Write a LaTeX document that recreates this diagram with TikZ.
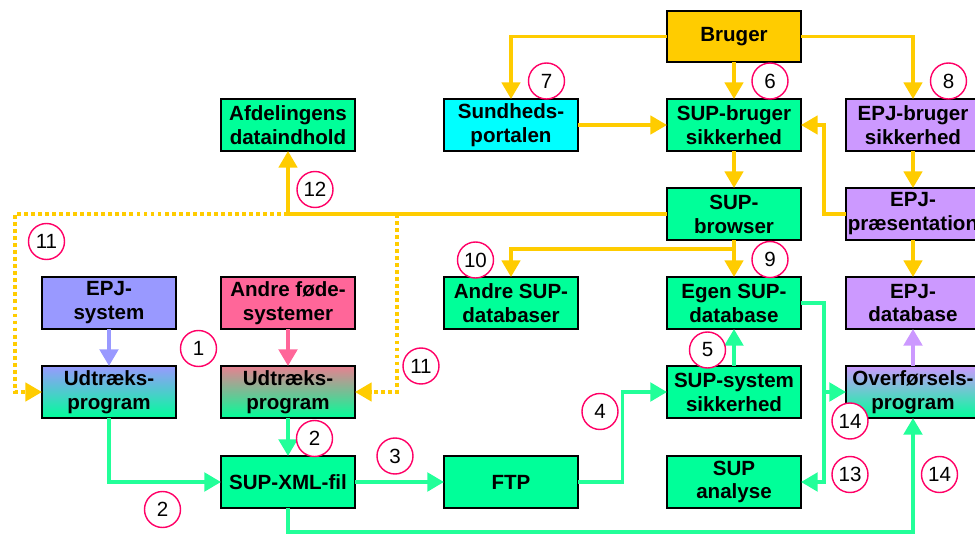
\documentclass[tikz,border=0pt]{standalone}
\usepackage{fontspec}
\setmainfont{Liberation Sans}
\usetikzlibrary{arrows.meta, positioning, calc}

\definecolor{guld}{HTML}{FFCC00}
\definecolor{supgroen}{HTML}{00FF99}
\definecolor{linjegroen}{HTML}{22FF99}
\definecolor{portalcyan}{HTML}{00FFFF}
\definecolor{epjlilla}{HTML}{CC99FF}
\definecolor{epjblaa}{HTML}{9999FF}
\definecolor{andrerosa}{HTML}{FF6699}
\definecolor{udtrrosa}{HTML}{E88090}
\definecolor{nummerrod}{HTML}{FF0066}

\begin{document}
\begin{tikzpicture}[
    node distance=0.74cm and 1.78cm,
    kasse/.style={rectangle, minimum width=2.68cm, minimum height=1.04cm, inner sep=0pt, outer sep=0pt, text centered, align=center, draw=black, line width=0.9pt, font=\bfseries\fontsize{11.7}{13.6}\selectfont},
    supbox/.style={kasse, fill=supgroen},
    epjbox/.style={kasse, fill=epjlilla},
    nummer/.style={circle, draw=nummerrod, fill=white, line width=0.8pt, minimum size=0.72cm, inner sep=0pt, font=\fontsize{11.7}{13}\selectfont},
    yarrow/.style={draw=guld, line width=2pt, -{Triangle[length=9.5pt, width=10.5pt]}},
    ydot/.style={draw=guld, line width=2pt, dash pattern=on 2.2pt off 1.8pt, -{Triangle[length=9.5pt, width=10.5pt]}},
    garrow/.style={draw=linjegroen, line width=2.2pt, -{Triangle[length=9.5pt, width=10.5pt]}},
    larrow/.style={draw=epjlilla, line width=2.2pt, -{Triangle[length=9.5pt, width=10.5pt]}},
    barrow/.style={draw=epjblaa, line width=2.2pt, -{Triangle[length=9.5pt, width=10.5pt]}},
    parrow/.style={draw=andrerosa, line width=2.2pt, -{Triangle[length=9.5pt, width=10.5pt]}}
]
\clip (0,0) rectangle (19.5,-10.68);

% Nodes
\node (bruger) [kasse, fill=guld, minimum height=1.02cm] at (14.68,-0.73) {Bruger};

\node (supbruger) [supbox, below=of bruger] {SUP-bruger\\sikkerhed};
\node (sundhed) [kasse, fill=portalcyan, left=of supbruger] {Sundheds-\\portalen};
\node (afdeling) [supbox, left=of sundhed] {Afdelingens\\dataindhold};
\node (epjbruger) [epjbox, right=0.9cm of supbruger] {EPJ-bruger\\sikkerhed};

\node (supbrowser) [supbox, below=of supbruger] {SUP-\\browser};
\node (epjpraes) [epjbox, below=of epjbruger] {EPJ-\\præsentation};

\node (egendb) [supbox, below=of supbrowser] {Egen SUP-\\database};
\node (andredb) [supbox, left=of egendb] {Andre SUP-\\databaser};
\node (epjdb) [epjbox, below=of epjpraes] {EPJ-\\database};

\node (sysik) [supbox, below=of egendb] {SUP-system\\sikkerhed};
\node (overf) [kasse, top color=epjlilla, bottom color=supgroen, below=of epjdb] {Overførsels-\\program};

\node (analyse) [supbox, below=0.76cm of sysik] {SUP\\analyse};
\node (ftp) [supbox, left=of analyse] {FTP};
\node (xml) [supbox, left=of ftp] {SUP-XML-fil};

\node (udtr2) [kasse, top color=udtrrosa, bottom color=supgroen, above=0.76cm of xml] {Udtræks-\\program};
\node (andre) [kasse, fill=andrerosa, above=of udtr2] {Andre føde-\\systemer};
\node (udtr1) [kasse, top color=epjblaa, bottom color=supgroen, left=0.9cm of udtr2] {Udtræks-\\program};
\node (epjsys) [kasse, fill=epjblaa, left=0.9cm of andre] {EPJ-\\system};

\coordinate (knude) at (afdeling.south |- supbrowser.west);
\coordinate (hoejre) at ($(udtr2.east)+(0.84,0)$);

% Arrows
\draw [yarrow] (bruger) -| (sundhed);
\draw [yarrow] (bruger) -| (epjbruger);
\draw [yarrow] (bruger) -- (supbruger);
\draw [yarrow] (sundhed) -- (supbruger);
\draw [yarrow] (supbruger) -- (supbrowser);
\draw [yarrow] (epjbruger) -- (epjpraes);
\draw [yarrow] (epjpraes.west) -- ++(-0.44,0) |- (supbruger.east);
\draw [yarrow] (supbrowser) -| (afdeling);
\draw [yarrow] (supbrowser) -- (egendb);
\draw [yarrow] ($(supbrowser.south)+(0,-0.18)$) -| (andredb);
\draw [yarrow] (epjpraes) -- (epjdb);
\draw [ydot] (knude) -| ($(udtr1.west)+(-0.54,0)$) -- (udtr1.west);
\draw [ydot] (hoejre |- knude) -- (hoejre) -- (udtr2.east);

\draw [barrow] (epjsys) -- (udtr1);
\draw [parrow] (andre) -- (udtr2);
\draw [larrow] (overf) -- (epjdb);

\draw [garrow] (udtr1) |- (xml);
\draw [garrow] (udtr2) -- (xml);
\draw [garrow] (xml) -- (ftp);
\draw [garrow] (ftp.east) -- ++(0.89,0) |- (sysik.west);
\draw [garrow] (sysik) -- (egendb);
\draw [garrow] (egendb.east) -- ++(0.46,0) |- (analyse.east);
\draw [garrow] ($(egendb.east)+(0.46,0)$) |- (overf.west);
\draw [garrow] (xml.south) -- ++(0,-0.48) -| (overf.south);

% Numbers
\node (n1) [nummer] at (3.97,-6.97) {1};
\node (n2a) [nummer] at (6.29,-8.77) {2};
\node (n2b) [nummer] at (3.25,-10.19) {2};
\node (n3) [nummer] at (7.90,-9.12) {3};
\node (n4) [nummer] at (12.00,-8.23) {4};
\node (n5) [nummer] at (14.15,-7.00) {5};
\node (n6) [nummer] at (15.40,-1.62) {6};
\node (n7) [nummer] at (10.93,-1.62) {7};
\node (n8) [nummer] at (18.97,-1.62) {8};
\node (n9) [nummer] at (15.40,-5.19) {9};
\node (n10) [nummer] at (9.51,-5.20) {10};
\node (n11a) [nummer] at (0.93,-4.83) {11};
\node (n11b) [nummer] at (8.42,-7.32) {11};
\node (n12) [nummer] at (6.30,-3.79) {12};
\node (n13) [nummer] at (17.00,-9.49) {13};
\node (n14a) [nummer] at (17.00,-8.42) {14};
\node (n14b) [nummer] at (18.79,-9.49) {14};

\end{tikzpicture}
\end{document}
